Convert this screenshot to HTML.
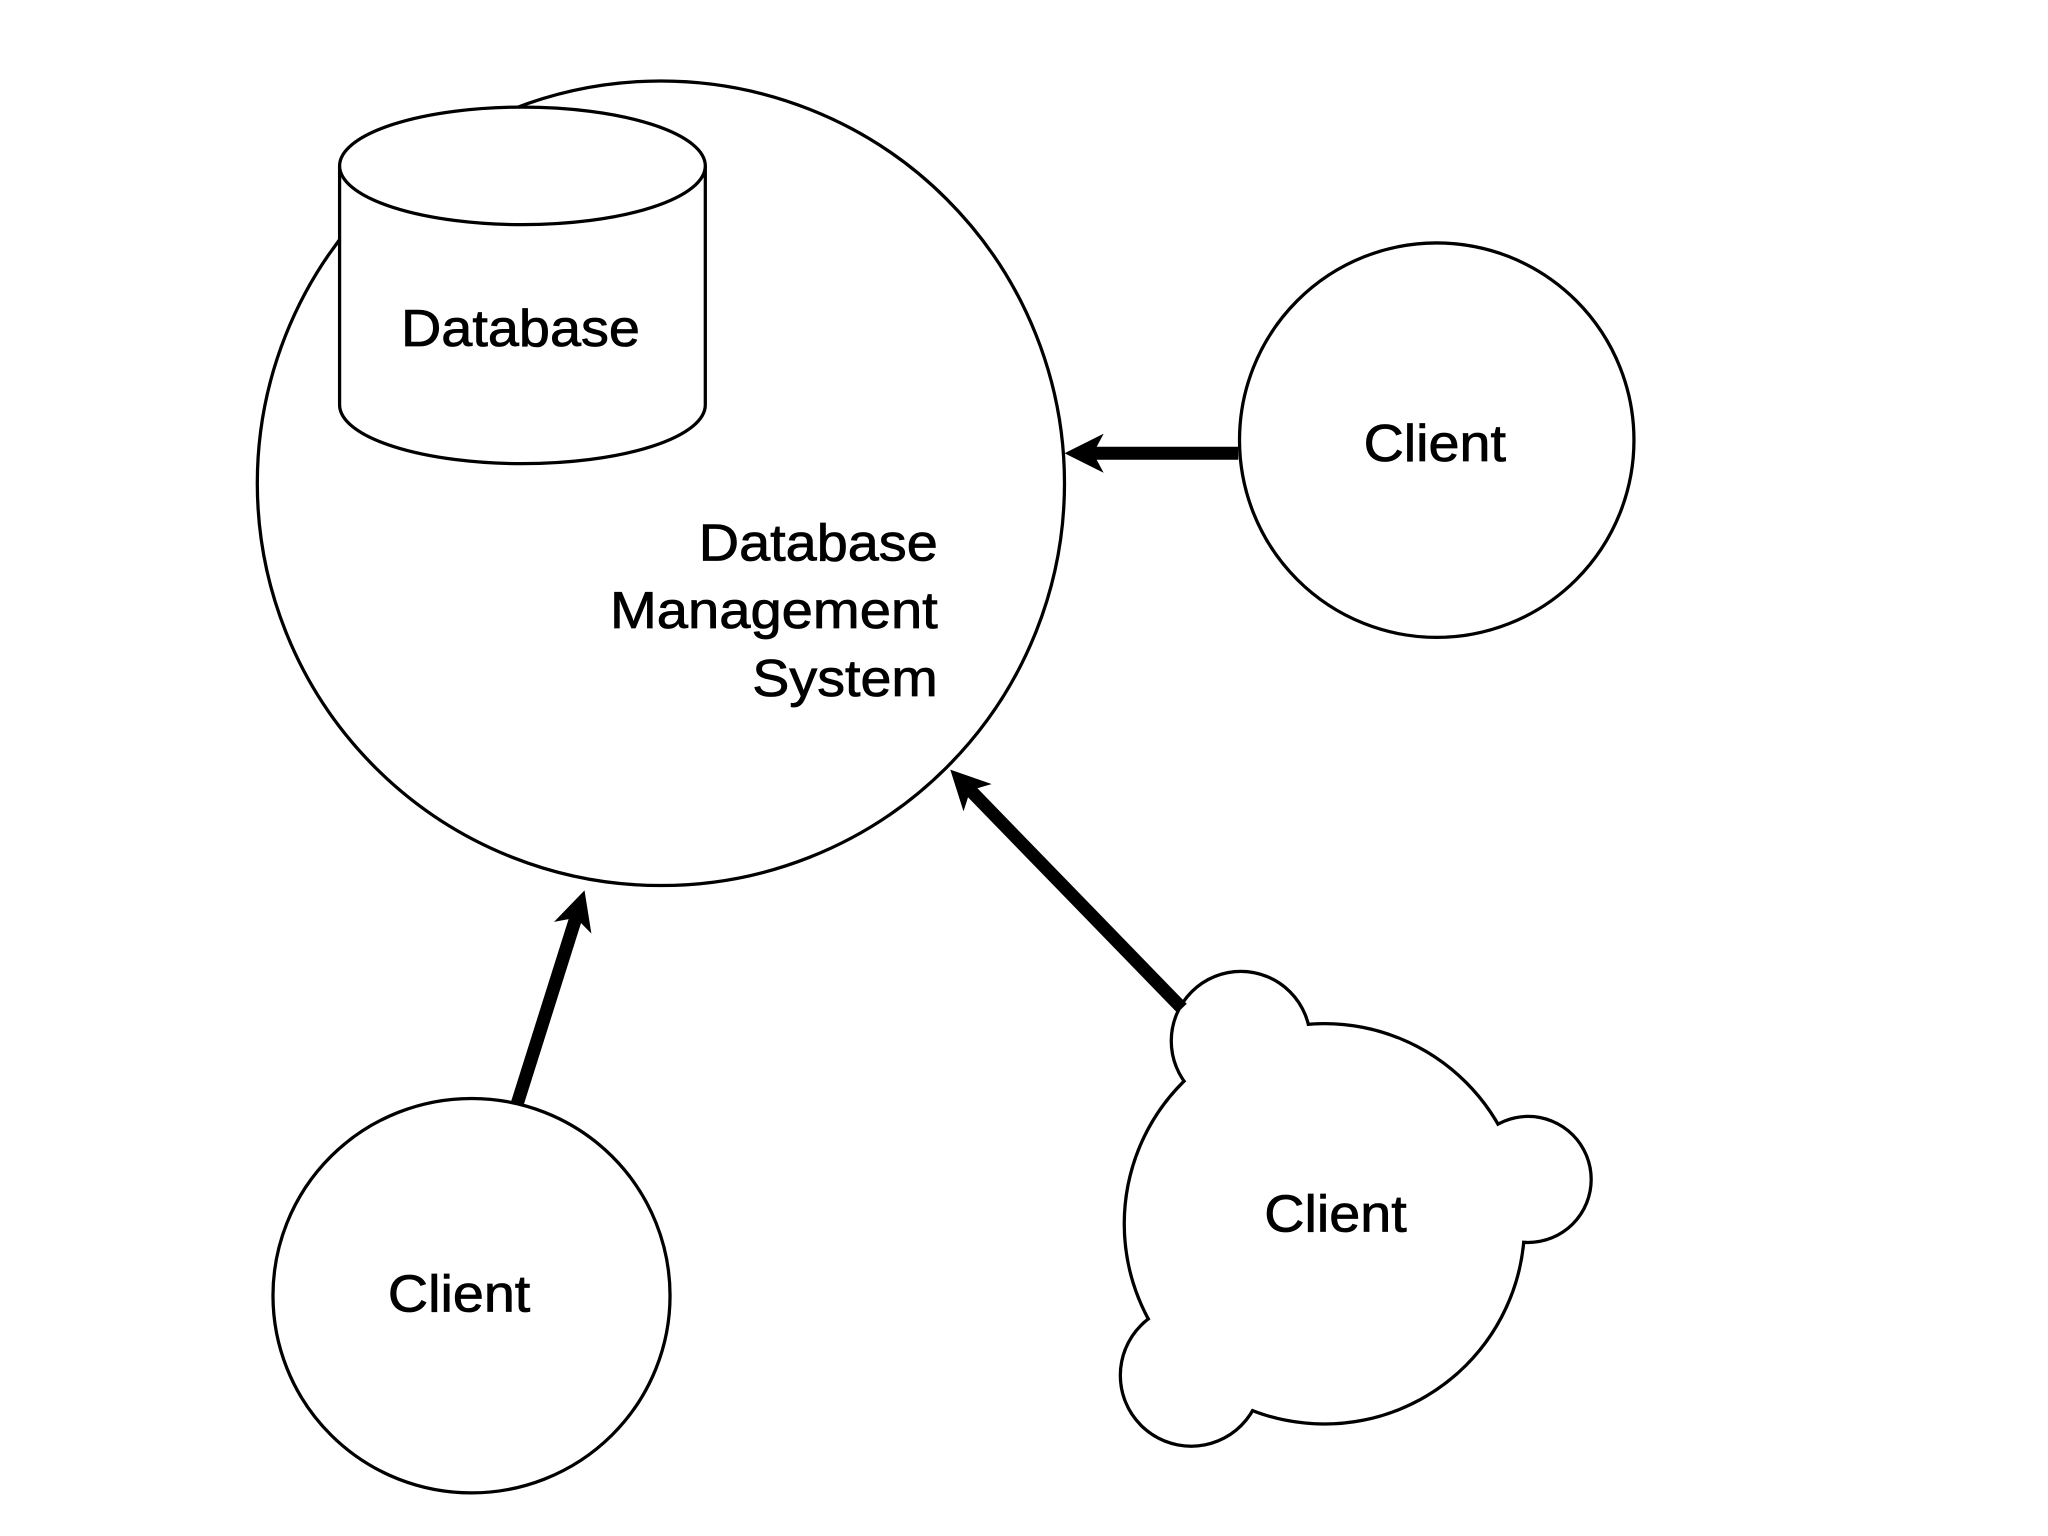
<!DOCTYPE html>
<html><head><style>html,body{margin:0;padding:0;background:#fff}svg{display:block}</style></head>
<body>
<svg width="2048" height="1536" viewBox="0 0 1568 1176" preserveAspectRatio="none" xmlns="http://www.w3.org/2000/svg" font-family="Liberation Sans, Arial, sans-serif" fill="none" stroke="#000">
<defs>
<marker id="ah" markerWidth="3" markerHeight="3" refX="1.5" refY="1.5" orient="auto" markerUnits="strokeWidth">
<path d="M0,0 L3,1.5 L0,3 L0.8,1.5 Z" fill="#000" stroke="none"/>
</marker>
</defs>
<ellipse cx="506" cy="370" rx="309" ry="308" stroke-width="2.5" fill="#fff"/>
<path d="M260,127 L260,310 A140,45 0 0 0 540,310 L540,127" fill="#fff" stroke-width="2.5"/>
<ellipse cx="400" cy="127" rx="140" ry="45" fill="#fff" stroke-width="2.5"/>
<g fill="#000" stroke="#000" stroke-width="0.6" font-size="40">
<text x="307" y="265" textLength="183" lengthAdjust="spacingAndGlyphs">Database</text>
<text x="535" y="429" textLength="183" lengthAdjust="spacingAndGlyphs">Database</text>
<text x="467" y="481" textLength="251" lengthAdjust="spacingAndGlyphs">Management</text>
<text x="576" y="533" textLength="142" lengthAdjust="spacingAndGlyphs">System</text>
</g>
<ellipse cx="1100" cy="337" rx="151" ry="151" stroke-width="2.5" fill="#fff"/>
<text x="1044" y="353" font-size="40" fill="#000" stroke="#000" stroke-width="0.6" textLength="109" lengthAdjust="spacingAndGlyphs">Client</text>
<ellipse cx="361" cy="992" rx="152" ry="151" stroke-width="2.5" fill="#fff"/>
<text x="297" y="1004" font-size="40" fill="#000" stroke="#000" stroke-width="0.6" textLength="109" lengthAdjust="spacingAndGlyphs">Client</text>
<g stroke-width="5">
<ellipse cx="1014" cy="937" rx="152" ry="152"/>
<circle cx="950" cy="797" r="52"/>
<circle cx="1170" cy="903" r="47"/>
<circle cx="912" cy="1053" r="53"/>
</g>
<g fill="#fff" stroke="none">
<ellipse cx="1014" cy="937" rx="152" ry="152"/>
<circle cx="950" cy="797" r="52"/>
<circle cx="1170" cy="903" r="47"/>
<circle cx="912" cy="1053" r="53"/>
</g>
<text x="968" y="943" font-size="40" fill="#000" stroke="#000" stroke-width="0.6" textLength="109" lengthAdjust="spacingAndGlyphs">Client</text>
<line x1="948" y1="347" x2="830" y2="347" stroke-width="10" marker-end="url(#ah)"/>
<line x1="396" y1="845" x2="443" y2="696" stroke-width="10" marker-end="url(#ah)"/>
<line x1="905" y1="772" x2="738" y2="600" stroke-width="10" marker-end="url(#ah)"/>
</svg>
</body></html>
